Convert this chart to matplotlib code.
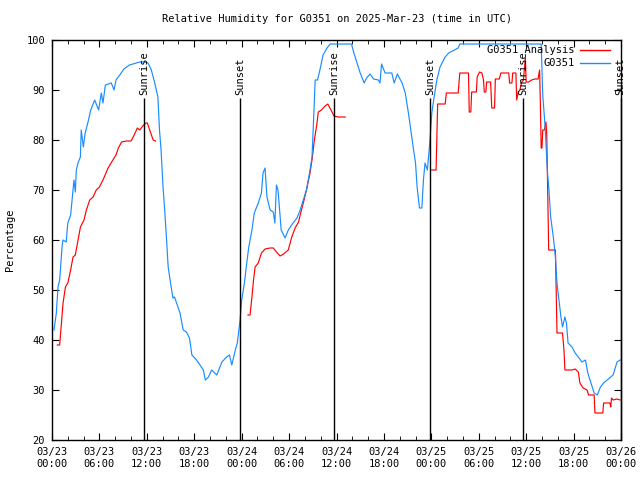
import numpy as np
import pandas as pd
import matplotlib
matplotlib.use("Agg")
import matplotlib.pyplot as plt
import matplotlib.dates as mdates
from matplotlib.lines import Line2D

plt.rcParams['font.family'] = ['DejaVu Sans Mono']
plt.rcParams['font.size'] = 7.5

base = pd.Timestamp("2025-03-23 00:00")

# observed humidity (G0351), hours since 03/23 00:00 UTC
obs_hours = [0.25, 0.55, 0.76, 0.97, 1.27, 1.39, 1.8, 2.0, 2.36, 2.5, 2.78, 2.95, 3.08, 3.29,
             3.59, 3.7, 3.97, 4.2, 4.56, 4.9, 5.4, 5.9, 6.24, 6.45, 6.75, 7.5, 7.85, 8.1, 8.57,
             9.1, 9.8, 10.7, 11.1, 11.7, 12.15, 12.57, 13.0, 13.4, 13.6, 13.8, 14.05, 14.26,
             14.5, 14.7, 15.0, 15.3, 15.5, 16.2, 16.6, 17.0, 17.4, 17.7, 18.3, 19.15, 19.4,
             19.8, 20.2, 20.85, 21.5, 22.1, 22.45, 22.75, 23.2, 23.45, 23.8, 24.0, 24.35,
             24.64, 24.9, 25.3, 25.6, 26.1, 26.5, 26.7, 26.96, 27.2, 27.6, 28.0, 28.2, 28.4,
             28.6, 29.0, 29.5, 29.9, 30.5, 31.0, 31.4, 31.8, 32.2, 32.65, 32.9, 33.1, 33.3,
             33.6, 33.9, 34.3, 34.8, 35.2, 37.9, 38.2, 38.6, 39.0, 39.5, 39.8, 40.25, 40.7,
             41.3, 41.5, 41.7, 42.15, 43.0, 43.3, 43.7, 44.3, 44.7, 45.1, 45.4, 45.7, 46.0,
             46.2, 46.5, 46.8, 47.0, 47.2, 47.5, 47.8, 48.06, 48.35, 48.7, 49.1, 49.75, 50.2,
             51.4, 51.6, 61.9, 62.1, 62.4, 62.7, 62.9, 63.1, 63.45, 63.7, 63.9, 64.1, 64.4,
             64.6, 64.9, 65.1, 65.3, 65.8, 66.2, 66.6, 67.05, 67.5, 67.8, 68.2, 68.6, 69.0,
             69.4, 69.8, 70.25, 70.7, 71.0, 71.3, 71.5, 71.9]
obs_rh = [42, 45.4, 50.6, 52, 58.6, 60, 59.6, 63.4, 65, 67.4, 72, 69.6, 74, 75.4,
          76.6, 82, 78.6, 81.4, 83.6, 86, 88, 86, 89.4, 87.4, 91, 91.4, 90, 92, 93,
          94.2, 95, 95.4, 95.6, 95.6, 95.4, 94, 91.4, 88.6, 82, 78, 70.6, 66,
          60, 54.6, 51.4, 48.4, 48.6, 45.4, 42, 41.6, 40.4, 37, 36, 34, 32,
          32.6, 34, 33, 35.6, 36.6, 37, 35, 38, 39.4, 44, 48, 51.4,
          55.4, 58.6, 62, 65.4, 67.4, 69.4, 73.4, 74.4, 68.6, 66, 65.6, 63.4, 71,
          70, 62, 60.4, 62, 63.4, 64.4, 66, 68, 70, 74, 76.6, 84, 92,
          92, 94, 97, 98.4, 99.2, 99.2, 97.4, 95.4, 93.4, 91.4, 92.4, 93.2, 92.2,
          92, 91.4, 95.2, 93.4, 93.4, 91.4, 93.2, 91.4, 89.4, 85.4, 82, 78.6, 75.4,
          70.6, 66.4, 66.4, 72, 75.4, 74, 79.4, 85.4, 88.6, 92, 94.6, 96.6, 97.4,
          98.4, 99.2, 99.2, 89, 82.6, 73.4, 69.6, 64.6, 60.4, 56.6, 51.4, 48.6, 44.6,
          42.6, 44.6, 43.4, 39.4, 38.6, 37.4, 36.6, 35.6, 36, 33.4, 31.4, 29.4, 29,
          30.6, 31.4, 32, 32.6, 33, 34.6, 35.6, 36]

# analysis (G0351 Analysis); NaN marks gaps
ana_hours = [0.67, 0.97, 1.2, 1.4, 1.7, 2.0, 2.36, 2.66, 2.95, 3.3, 3.6, 4.05, 4.35, 4.77,
             5.2, 5.6, 6.0, 6.45, 7.1, 7.7, 8.1, 8.4, 8.8, 9.4, 10.0, 10.4, 10.8, 11.1, 11.5,
             11.86, 12.06, 12.36, 12.8, 13.1, 18.0,
             24.8, 25.06, 25.3, 25.5, 25.7, 26.1, 26.5, 26.96, 27.6, 28.0, 28.4, 28.86, 29.3,
             29.9, 30.3, 30.76, 31.2, 31.5, 31.8, 32.2, 32.65, 32.95, 33.2, 33.5, 33.7, 34.1,
             34.56, 34.9, 35.3, 35.7, 36.2, 37.1, 42.0,
             48.06, 48.6, 48.7, 48.8, 49.75, 49.9, 51.4, 51.6, 52.7, 52.8, 53.0, 53.1, 53.7,
             53.8, 54.1, 54.4, 54.6, 54.7, 54.9, 55.0, 55.5, 55.65, 56.0, 56.1, 56.6, 56.8,
             57.8, 57.9, 58.2, 58.3, 58.7, 58.8, 59.0, 59.2, 59.45, 59.65, 59.9, 60.0, 60.3,
             60.7, 61.1, 61.5, 61.7, 61.8, 61.9, 62.0, 62.1, 62.3, 62.5, 62.6, 62.7, 62.85,
             63.7, 63.8, 63.9, 64.6, 64.8, 64.9, 65.8, 66.2, 66.6, 66.8, 67.2, 67.7, 67.9,
             68.6, 68.7, 69.7, 69.8, 70.6, 70.7, 70.8, 71.0, 71.5, 71.9]
ana_rh = [39, 39, 43.4, 47.4, 50.6, 51.4, 54, 56.6, 57, 60, 62.6, 64, 66, 68,
          68.6, 70, 70.6, 72, 74.4, 76, 77, 78.4, 79.6, 79.8, 79.8, 81, 82.4, 82, 82.8,
          83.4, 83.4, 82, 80, 79.8, np.nan,
          45, 45, 48.6, 52, 54.6, 55.4, 57.4, 58.2, 58.4, 58.4, 57.6, 56.8, 57.2,
          58, 60.4, 62.4, 63.6, 65.6, 67.4, 70, 73.4, 76.6, 80, 83, 85.6, 86,
          86.8, 87.2, 86, 84.8, 84.6, 84.6, np.nan,
          74, 74, 80.6, 87.2, 87.2, 89.4, 89.4, 93.4, 93.4, 85.6, 85.6, 89.6, 89.6,
          92.6, 93.6, 93.4, 92, 89.6, 89.6, 91.6, 91.6, 86.4, 86.4, 92.2, 92.2, 93.4,
          93.4, 91.4, 91.4, 93.4, 93.4, 88, 89.6, 90, 91.6, 92, 96.4, 91.6, 91.6,
          92, 92.2, 92.2, 94, 87, 78.4, 78.4, 82, 82, 83.6, 81.4, 72, 58,
          58, 49.6, 41.4, 41.4, 37.6, 34, 34, 34.2, 33.6, 31.4, 30.4, 30, 29,
          29, 25.4, 25.4, 27.4, 27.4, 26.6, 28.4, 28, 28.2, 28]

sun_hours = [11.68, 23.83, 35.72, 47.83, 59.64, 71.95]
sun_labels = ["Sunrise", "Sunset", "Sunrise", "Sunset", "Sunrise", "Sunset"]

obs_t = base + pd.to_timedelta(obs_hours, unit="h")
ana_t = base + pd.to_timedelta(ana_hours, unit="h")
sun_t = base + pd.to_timedelta(sun_hours, unit="h")

fig = plt.figure(figsize=(6.4, 4.8), dpi=100)
ax = fig.add_axes([52 / 640, 40 / 480, 569 / 640, 400 / 480])

ax.plot(ana_t, ana_rh, color="#ff0000", lw=0.85)
ax.plot(obs_t, obs_rh, color="#1a8cff", lw=0.85)

# sunrise / sunset markers
ax.vlines(sun_t, 20, 88.4, color="black", lw=1.0, clip_on=False)
for t, lab in zip(sun_t, sun_labels):
    ax.text(t, 89, lab, rotation=90, ha="center", va="bottom", fontsize=7.5, clip_on=False)

ax.set_xlim(base, base + pd.Timedelta(hours=72))
ax.set_ylim(20, 100)
ax.set_yticks(np.arange(20, 101, 10))
ax.xaxis.set_major_locator(mdates.HourLocator(byhour=[0, 6, 12, 18]))
ax.xaxis.set_minor_locator(mdates.HourLocator(byhour=range(0, 24, 2)))
ax.xaxis.set_major_formatter(mdates.DateFormatter("%m/%d\n%H:%M"))
ax.tick_params(which="both", direction="in", top=True, right=True, labelsize=7.5)
ax.tick_params(which="major", length=5, pad=5)
ax.tick_params(which="minor", length=3)
for s in ax.spines.values():
    s.set_linewidth(1.0)

ax.set_ylabel("Percentage", fontsize=7.5, labelpad=8)
ax.set_title("Relative Humidity for G0351 on 2025-Mar-23 (time in UTC)", fontsize=7.5, pad=13)

# gnuplot-style key, text right-aligned with sample line to its right
key = [("G0351 Analysis", "#ff0000"), ("G0351", "#1a8cff")]
for i, (lab, col) in enumerate(key):
    yk = 0.975 - i * 0.0325
    ax.text(0.919, yk, lab, transform=ax.transAxes, ha="right", va="center", fontsize=7.5)
    ax.add_line(Line2D([0.928, 0.981], [yk, yk], transform=ax.transAxes, color=col, lw=1.0))

fig.savefig("out.png", dpi=100)
